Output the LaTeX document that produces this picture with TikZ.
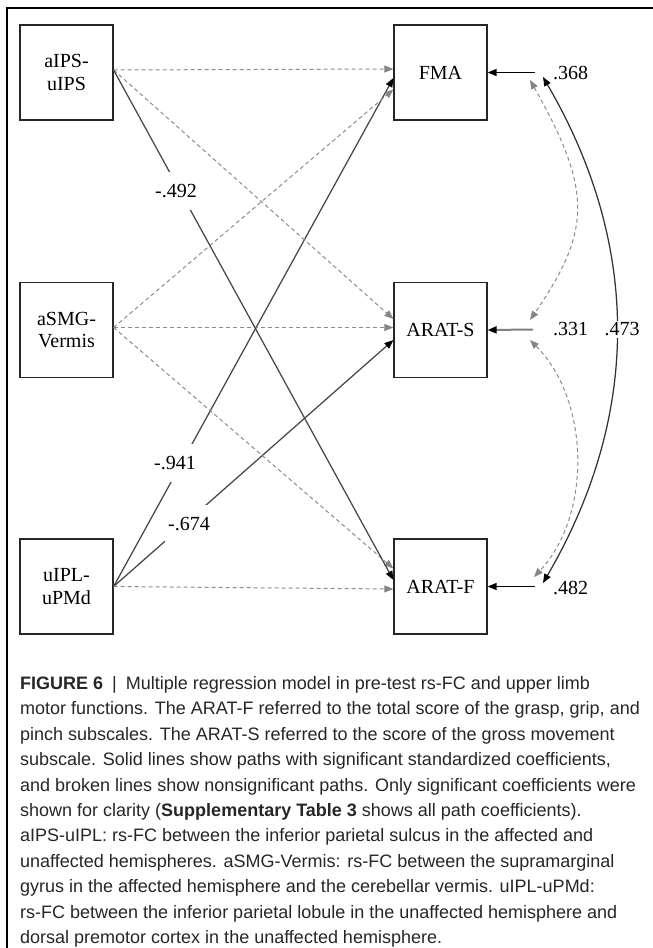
\documentclass[tikz,border=0pt]{standalone}
\usepackage{fontspec}
\setmainfont{Liberation Serif}
\newfontfamily\capfont{Liberation Sans}
\usetikzlibrary{arrows.meta,calc}
\begin{document}
\begin{tikzpicture}[x=1pt,y=-1pt,
  var/.style={draw=black!85, line width=1.2pt, minimum width=93pt, minimum height=95pt,
    inner sep=0pt, align=center, font=\fontsize{20}{22.5}\selectfont},
  sig/.style={draw=black!72, line width=1.25pt, -{Triangle[length=9pt,width=7pt,color=black]}},
  ns/.style={draw=black!45, line width=1pt, dash pattern=on 4pt off 3pt,
    -{Triangle[length=9pt,width=7pt,color=black!48]}},
  sigcov/.style={draw=black!80, line width=1.25pt,
    {Triangle[length=9pt,width=7pt,color=black]}-{Triangle[length=9pt,width=7pt,color=black]}},
  nscov/.style={draw=black!45, line width=1pt, dash pattern=on 4pt off 3pt,
    {Triangle[length=9pt,width=7pt,color=black!48]}-{Triangle[length=9pt,width=7pt,color=black!48]}},
  coef/.style={fill=white, minimum width=48pt, minimum height=38pt, inner sep=0pt,
    font=\fontsize{20}{24}\selectfont},
  errlab/.style={fill=white, inner sep=1pt, font=\fontsize{20}{24}\selectfont},
  capline/.style={anchor=base west, inner sep=0pt, text=black!85,
    font=\capfont\fontsize{18}{22}\selectfont}
]
\useasboundingbox (0,0) rectangle (653,948);
% frame
\coordinate (fb) at (7,948);
\coordinate (fc) at (7,8);
\coordinate (fr) at (653,8);
\draw[line width=1.3pt] (fb) -- (fc) -- (fr);

% variables
\node[var] (aIPS) at (66.5,72.5) {aIPS-\\uIPS};
\node[var] (aSMG) at (66.5,330) {aSMG-\\Vermis};
\node[var] (uIPL) at (66.5,586.5) {uIPL-\\uPMd};
\node[var] (FMA) at (440.5,72.5) {FMA};
\node[var] (ARATS) at (440.5,330) {ARAT-S};
\node[var] (ARATF) at (440.5,586.5) {ARAT-F};

% paths
\coordinate (sA) at ($(aIPS.east)+(0,-2.5)$);
\coordinate (sB) at ($(aSMG.east)+(0,-2.5)$);
\coordinate (sC) at (uIPL.east);

\draw[ns]  (sA) -- ($(FMA.west)+(0,-3.5)$);
\draw[sig] (sC) -- ($(FMA.west)+(0,5.5)$);
\draw[ns]  (sB) -- ($(FMA.west)+(0,17)$);

\draw[ns]  (sA) -- ($(ARATS.west)+(0,-11)$);
\draw[ns]  (sB) -- ($(ARATS.west)+(0,-2.5)$);
\draw[sig] (sC) -- ($(ARATS.west)+(0,10)$);

\draw[ns]  (sB) -- ($(ARATF.west)+(0,-18)$);
\draw[sig] (sA) -- ($(ARATF.west)+(0,-6.5)$);
\draw[ns]  (sC) -- ($(ARATF.west)+(0,2.5)$);

% coefficients
\node[coef] (c1) at (176,191) {-.492};
\node[coef] (c2) at (175,463) {-.941};
\node[coef] (c3) at (189,524) {-.674};

% error terms
\coordinate (e1) at (535,72.5);
\coordinate (e2) at (533,329.5);
\coordinate (e3) at (535,586.5);
\draw[sig, draw=black] (e1) -- (FMA.east);
\draw[draw=black!50, line width=2pt, -{Triangle[length=9pt,width=7pt,color=black]}] (e2) -- (ARATS.east);
\draw[sig, draw=black] (e3) -- (ARATF.east);
\node[errlab, anchor=west] (l1) at (552,72.5) {.368};
\node[errlab, anchor=west] (l2) at (552,329.5) {.331};
\node[errlab, anchor=west] (l3) at (552,587.5) {.482};

% covariances
\coordinate (c1a) at (543,77);
\coordinate (c1b) at (543,583);
\coordinate (c2a) at (530,80);
\coordinate (c2b) at (530,320);
\coordinate (c3a) at (530,340);
\coordinate (c3b) at (534,577);
\draw[sigcov] (c1a) .. controls (641,245) and (641,415) .. (c1b);
\draw[nscov] (c2a) .. controls (592,190) and (592,230) .. (c2b);
\draw[nscov] (c3a) .. controls (590,400) and (592,515) .. (c3b);
\node[errlab, inner sep=2pt] (l4) at (622,329.5) {.473};

% caption
\node[capline] (k1) at (20,689.5) {\textbf{FIGURE 6}\enspace|\enspace Multiple regression model in pre-test rs-FC and upper limb};
\node[capline] (k2) at (20,714.9) {motor functions. The ARAT-F referred to the total score of the grasp, grip, and};
\node[capline] (k3) at (20,740.3) {pinch subscales. The ARAT-S referred to the score of the gross movement};
\node[capline] (k4) at (20,765.7) {subscale. Solid lines show paths with significant standardized coefficients,};
\node[capline] (k5) at (20,791.1) {and broken lines show nonsignificant paths. Only significant coefficients were};
\node[capline] (k6) at (20,816.5) {shown for clarity (\textbf{Supplementary Table 3} shows all path coefficients).};
\node[capline] (k7) at (20,841.9) {aIPS-uIPL: rs-FC between the inferior parietal sulcus in the affected and};
\node[capline] (k8) at (20,867.3) {unaffected hemispheres. aSMG-Vermis: rs-FC between the supramarginal};
\node[capline] (k9) at (20,892.7) {gyrus in the affected hemisphere and the cerebellar vermis. uIPL-uPMd:};
\node[capline] (k10) at (20,918.1) {rs-FC between the inferior parietal lobule in the unaffected hemisphere and};
\node[capline] (k11) at (20,943.5) {dorsal premotor cortex in the unaffected hemisphere.};
\end{tikzpicture}
\end{document}
